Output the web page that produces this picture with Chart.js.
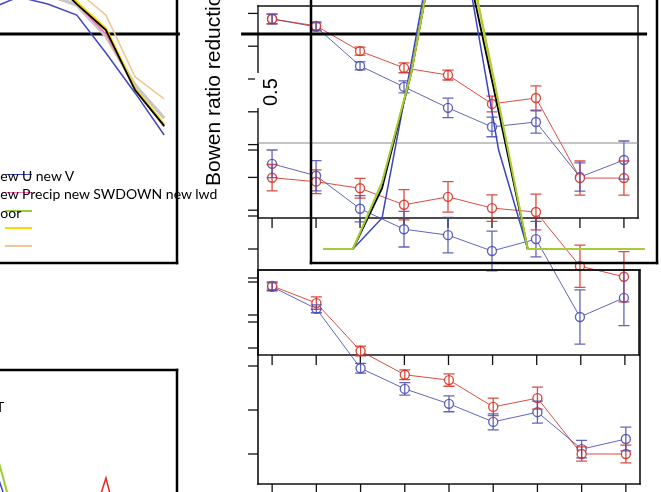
<!DOCTYPE html>
<html lang="en">
<head>
<meta charset="UTF-8">
<title>Bowen ratio reduction</title>
<script src="https://cdn.jsdelivr.net/npm/chart.js"></script>
<style>
    body { margin: 0; background: #fff; }
    #wrap { position: relative; width: 661px; height: 492px; overflow: hidden; background: #fff; }
    #wrap canvas { position: absolute; left: 0; top: 0; }
    .txt { position: absolute; white-space: nowrap; color: #000; }
    .leg { font-family: Lato, sans-serif; font-size: 14px; line-height: 14px; }
    .sw { position: absolute; height: 0; width: 27px; left: 5px; border-top: 2px solid; }
    .rot { transform-origin: 0 0; transform: rotate(-90deg); font-family: "Liberation Sans", Arial, sans-serif; }
</style>
</head>
<body>
<div id="wrap">
    <canvas id="cLeft" width="661" height="492"></canvas>
    <canvas id="cBL" width="661" height="492"></canvas>
    <canvas id="cA" width="661" height="492"></canvas>
    <canvas id="cL" width="661" height="492"></canvas>
    <canvas id="cC" width="661" height="492"></canvas>
    <canvas id="cD" width="661" height="492"></canvas>
    <canvas id="cB" width="661" height="492"></canvas>

    <!-- legend of the left panel -->
    <div class="sw" style="top:174px; border-color:#4048c0; border-top-width:1.5px"></div>
    <div class="sw" style="top:192px; border-color:#ff6eb4; border-top-width:1.5px"></div>
    <div class="sw" style="top:210px; border-color:#9acd32"></div>
    <div class="sw" style="top:227px; border-color:#ffd700"></div>
    <div class="sw" style="top:245px; border-color:#f0c896"></div>
    <div class="txt leg" style="left:-7.5px; top:169px">new U new V</div>
    <div class="txt leg" style="left:-7.5px; top:187px">new Precip new SWDOWN new lwd</div>
    <div class="txt leg" style="left:-7.5px; top:206px">poor</div>
    <div class="txt leg" style="left:-4px; top:400px">T</div>

    <div class="txt rot" style="left:255px; top:108px; font-size:20px; line-height:20px; background:#fff; padding:5px 5px 4px 2px">0.5</div>
    <div class="txt rot" style="left:202px; top:186px; font-size:21px; line-height:21px">Bowen ratio reduction</div>
</div>
<script>
    const W = 661, H = 492;

    // seasonal panels: month index
    const months = [1, 2, 3, 4, 5, 6, 7, 8, 9, 10, 11, 12];
    const leftMonths = [6, 7, 8, 9, 10, 11, 12];
    // error-bar panels: site index
    const sites = [1, 2, 3, 4, 5, 6, 7, 8, 9];

    // left panel (only months 6-12 in view)
    const plBlue   = [0.764, 0.803, 0.780, 0.745, 0.624, 0.497, 0.363];
    const plGray   = [0.840, 0.850, 0.810, 0.777, 0.678, 0.522, 0.417];
    const plTan    = [0.860, 0.870, 0.850, 0.822, 0.745, 0.548, 0.478];
    const plPink   = [0.870, 0.890, 0.860, 0.780, 0.685, 0.510, 0.389];
    const plGreen  = [0.880, 0.900, 0.870, 0.780, 0.697, 0.506, 0.392];
    const plYellow = [0.880, 0.900, 0.870, 0.786, 0.702, 0.510, 0.396];
    const plBlack  = [0.880, 0.900, 0.870, 0.780, 0.697, 0.506, 0.392];
    const refLevel = 0.685;

    // bottom-left panel
    const blRed   = [null, null, null, -0.64, 0.115, -0.81, null];
    const blGreen = [0.52, -0.34, null, null, null, null, null];
    const blBlue  = [0.33, -0.38, null, null, null, null, null];

    // seasonal hump panel
    const bBlue   = [0, 0, 0.099, 0.592, 1.10, 0.85, 0.316, 0, 0, 0, 0, 0];
    const bBlack  = [0, 0, 0.194, 0.560, 1.06, 0.87, 0.439, 0, 0, 0, 0, 0];
    const bYellow = [0, 0, 0.210, 0.560, 1.06, 0.91, 0.462, 0, 0, 0, 0, 0];
    const bGreen  = [0, 0, 0.213, 0.560, 1.06, 0.92, 0.468, 0, 0, 0, 0, 0];

    // upper pair
    const aRed     = [0.683, 0.662, 0.585, 0.534, 0.512, 0.424, 0.442, 0.198, 0.198];
    const aRedErr  = [0.015, 0.012, 0.012, 0.015, 0.015, 0.024, 0.037, 0.052, 0.052];
    const aBlue    = [0.683, 0.659, 0.540, 0.476, 0.412, 0.354, 0.369, 0.201, 0.253];
    const aBlueErr = [0.015, 0.012, 0.012, 0.018, 0.030, 0.030, 0.034, 0.043, 0.058];

    // middle pair
    const lBlue    = [0.279, 0.261, 0.211, 0.180, 0.171, 0.147, 0.165, 0.047, 0.076];
    const lBlueErr = [0.021, 0.023, 0.020, 0.027, 0.027, 0.030, 0.027, 0.041, 0.042];
    const lRed     = [0.258, 0.252, 0.242, 0.217, 0.229, 0.212, 0.206, 0.124, 0.108];
    const lRedErr  = [0.020, 0.018, 0.015, 0.023, 0.023, 0.020, 0.027, 0.032, 0.038];

    // bottom pair
    const dRed     = [0.582, 0.543, 0.434, 0.380, 0.368, 0.307, 0.327, 0.200, 0.200];
    const dRedErr  = [0.009, 0.014, 0.011, 0.011, 0.014, 0.020, 0.025, 0.016, 0.020];
    const dBlue    = [0.580, 0.530, 0.395, 0.348, 0.314, 0.273, 0.295, 0.211, 0.234];
    const dBlueErr = [0.009, 0.009, 0.011, 0.014, 0.018, 0.018, 0.025, 0.020, 0.027];

    // axis ticks
    const aTicks = [0.1, 0.2, 0.3, 0.4, 0.5, 0.6, 0.7];
    const lTicks = [0, 0.05, 0.1, 0.15, 0.2, 0.3];
    const dTicks = [0.2, 0.3, 0.4, 0.5, 0.6];

    const RED = 'rgba(214,45,32,0.85)';
    const BLUE = 'rgba(70,74,178,0.85)';

    // R-like box, outside ticks and error bars
    const frame = {
        id: 'frame',
        beforeDatasetsDraw(chart, args, o) {
            const ctx = chart.ctx, a = chart.chartArea;
            const seg = (x1, y1, x2, y2) => { ctx.beginPath(); ctx.moveTo(x1, y1); ctx.lineTo(x2, y2); ctx.stroke(); };
            ctx.save();
            ctx.lineCap = 'square';
            ctx.strokeStyle = o.color || '#000';
            ctx.lineWidth = o.width || 1.5;
            const e = o.edges || '';
            if (e.includes('l')) seg(a.left, a.top, a.left, a.bottom);
            if (e.includes('r')) seg(a.right, a.top, a.right, a.bottom);
            if (e.includes('b')) seg(a.left, a.bottom, a.right, a.bottom);
            if (e.includes('t')) seg(a.left, a.top, a.right, a.top);
            if (o.topColor) {
                ctx.strokeStyle = o.topColor; ctx.lineWidth = 1;
                seg(a.left, a.top, a.right, a.top);
            }
            ctx.lineCap = 'butt';
            ctx.strokeStyle = '#111';
            ctx.lineWidth = 1.3;
            (o.yTicks || []).forEach(v => {
                const y = chart.scales.y.getPixelForValue(v);
                seg(a.left - 10, y, a.left, y);
            });
            (o.xTicks || []).forEach(v => {
                const x = chart.scales.x.getPixelForValue(v);
                seg(x, a.bottom, x, a.bottom + 10);
            });
            ctx.restore();
        },
        afterDatasetsDraw(chart) {
            const ctx = chart.ctx, xs = chart.scales.x, ys = chart.scales.y;
            ctx.save();
            chart.data.datasets.forEach(ds => {
                if (!ds.errors) return;
                ctx.strokeStyle = ds.borderColor;
                ctx.lineWidth = 1.3;
                ds.data.forEach((p, i) => {
                    const x = xs.getPixelForValue(p.x);
                    const y1 = ys.getPixelForValue(p.y - ds.errors[i]);
                    const y2 = ys.getPixelForValue(p.y + ds.errors[i]);
                    ctx.beginPath();
                    ctx.moveTo(x, y1); ctx.lineTo(x, y2);
                    ctx.moveTo(x - 5.5, y1); ctx.lineTo(x + 5.5, y1);
                    ctx.moveTo(x - 5.5, y2); ctx.lineTo(x + 5.5, y2);
                    ctx.stroke();
                });
            });
            ctx.restore();
        }
    };

    function series(xs, ys, color, width, extra) {
        return Object.assign({
            data: xs.map((x, i) => ({ x: x, y: ys[i] })),
            borderColor: color,
            borderWidth: width,
            pointRadius: 0,
            tension: 0,
            spanGaps: false,
            clip: false
        }, extra || {});
    }

    function points(ys, errs, color) {
        return series(sites, ys, color, 1, {
            pointRadius: 4.5,
            pointBorderWidth: 1.4,
            pointBorderColor: color,
            pointBackgroundColor: '#fff',
            errors: errs
        });
    }

    // datasets are listed bottom layer first; Chart.js paints index 0 last, so reverse
    function panel(id, box, xr, yr, datasets, frameOpts) {
        return new Chart(document.getElementById(id), {
            type: 'line',
            data: { datasets: datasets.slice().reverse() },
            options: {
                responsive: false,
                animation: false,
                events: [],
                layout: { padding: { left: box[0], top: box[1], right: W - box[2], bottom: H - box[3] } },
                scales: {
                    x: { type: 'linear', display: false, min: xr[0], max: xr[1] },
                    y: { type: 'linear', display: false, min: yr[0], max: yr[1] }
                },
                plugins: { legend: { display: false }, tooltip: { enabled: false }, frame: frameOpts }
            },
            plugins: [frame]
        });
    }

    const seasonY = [-0.0446, 0.793];
    const leftX = [6.362, 12.44];
    const siteX = [0.68, 9.32];

    panel('cLeft', [0, 0, 177, 263], leftX, seasonY, [
        series([leftX[0], 12.54], [refLevel, refLevel], '#000', 3),
        series(leftMonths, plTan, '#f0c896', 1.5),
        series(leftMonths, plGray, '#c8c8c8', 3.5),
        series(leftMonths, plBlue, '#4048c0', 1.5),
        series(leftMonths, plPink, '#ff6eb4', 1.5),
        series(leftMonths, plGreen, '#9acd32', 2),
        series(leftMonths, plYellow, '#ffd700', 2.5),
        series(leftMonths, plBlack, '#000', 1.8)
    ], { edges: 'rb', width: 2.5 });

    panel('cBL', [0, 370, 177, 492], leftX, [0, 1], [
        series(leftMonths, blBlue, '#4048c0', 1.5),
        series(leftMonths, blGreen, '#9acd32', 2),
        series(leftMonths, blRed, '#e8291c', 1.5)
    ], { edges: 'tr', width: 2.5 });

    panel('cA', [258, 6, 638, 218], siteX, [0.0762, 0.7226], [
        points(aBlue, aBlueErr, BLUE),
        points(aRed, aRedErr, RED)
    ], { edges: 'tlbr', width: 1.4, color: '#111', yTicks: aTicks, xTicks: sites });

    panel('cL', [258, 143, 638, 355], siteX, [-0.0106, 0.3106], [
        points(lBlue, lBlueErr, BLUE),
        points(lRed, lRedErr, RED)
    ], { edges: 'l', width: 1.4, color: '#111', topColor: '#8a8a8a', yTicks: lTicks });

    panel('cC', [258, 270, 639, 355], siteX, [0, 1], [],
        { edges: 'tlbr', width: 1.6, color: '#111', xTicks: sites });

    panel('cD', [258, 270, 640, 484], siteX, [0.1318, 0.6182], [
        points(dBlue, dBlueErr, BLUE),
        points(dRed, dRedErr, RED)
    ], { edges: 'tlbr', width: 1.6, color: '#111', yTicks: dTicks, xTicks: sites });

    panel('cB', [311, 0, 657, 263], [0.56, 12.44], seasonY, [
        series([-1.84, 12.1], [refLevel, refLevel], '#000', 3),
        series(months, bBlue, '#3a44c4', 1.5),
        series(months, bYellow, '#ffd700', 2),
        series(months, bBlack, '#000', 1.8),
        series(months, bGreen, '#a4cd39', 2)
    ], { edges: 'lrb', width: 2.5 });
</script>
</body>
</html>
